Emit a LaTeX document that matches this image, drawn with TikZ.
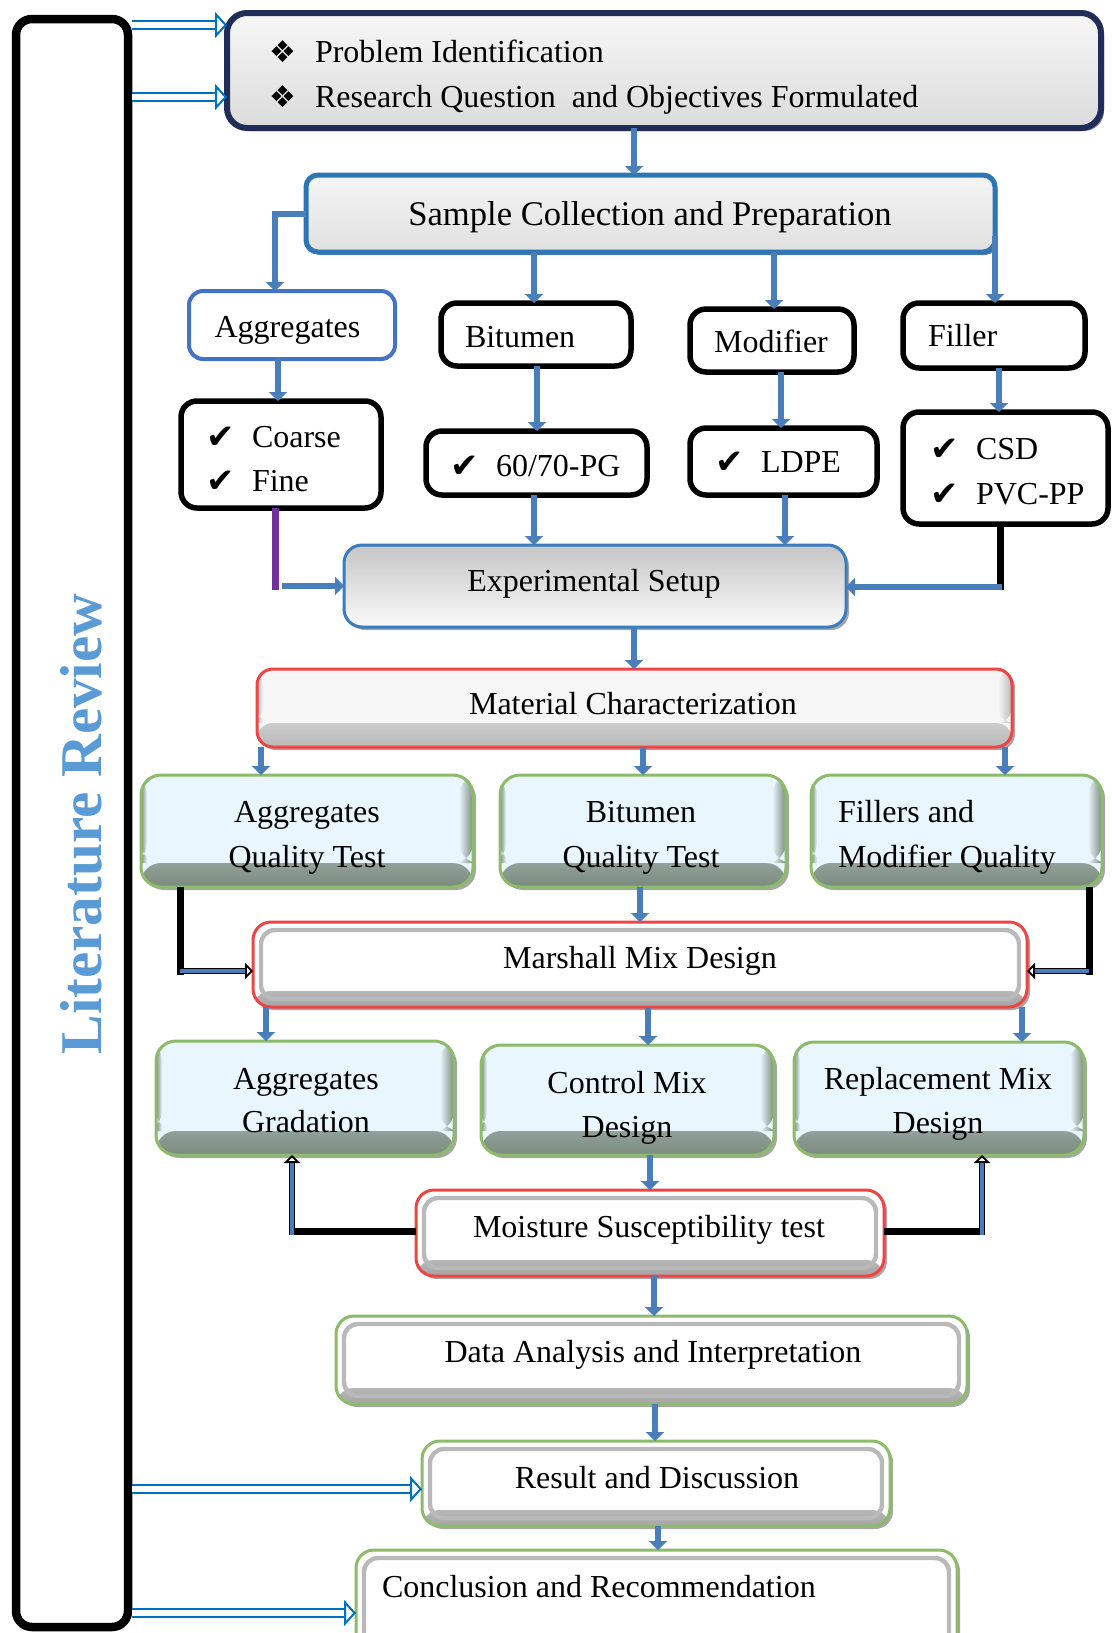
\documentclass[tikz,border=0pt]{standalone}
\usepackage{fontspec}
\setmainfont{Liberation Serif}
\newfontfamily\symfont{DejaVu Sans}
\usetikzlibrary{arrows.meta,fit,shadows,calc}
\definecolor{navyb}{HTML}{1F2D57}
\definecolor{sampleb}{HTML}{2E75B6}
\definecolor{aggb}{HTML}{4472C4}
\definecolor{connb}{HTML}{4A7EBB}
\definecolor{litb}{HTML}{5B9BD5}
\definecolor{hollowb}{HTML}{0070C0}
\definecolor{purp}{HTML}{7030A0}
\definecolor{redb}{HTML}{EE4444}
\definecolor{greenb}{HTML}{8CBB69}
\definecolor{qfill}{HTML}{EAF6FD}
\definecolor{qband}{HTML}{7A8A7E}
\definecolor{expb}{HTML}{3A7CC0}
\newcommand\chk{\makebox[23pt][l]{\raisebox{-0.5pt}{\symfont\fontsize{17}{17}\selectfont ✔}}}
\newcommand\dia{\makebox[23pt][l]{\symfont\fontsize{15}{15}\selectfont ❖}}
\tikzset{
  every node/.style={inner sep=0pt, outer sep=0pt},
  txt/.style={font=\fontsize{16}{19}\selectfont, text height=10.6pt, text depth=0pt},
  shad/.style={drop shadow={shadow xshift=1.5pt, shadow yshift=-1.5pt, opacity=0.35, fill=black}},
  topbox/.style={draw=navyb, line width=3pt, rounded corners=10pt, top color=gray!6, bottom color=gray!28,
     drop shadow={shadow xshift=1.5pt, shadow yshift=-1.5pt, opacity=0.6, fill=navyb}},
  samplebox/.style={draw=sampleb, line width=2.5pt, rounded corners=6pt, top color=gray!8, bottom color=gray!24,
     drop shadow={shadow xshift=1.2pt, shadow yshift=-1.5pt, opacity=0.6, fill=navyb}},
  aggbox/.style={draw=aggb, line width=2pt, rounded corners=7pt, fill=white},
  blkbox/.style={draw=black, line width=2.75pt, rounded corners=8pt, fill=white},
  bevel/.style 2 args={path picture={
     \shade[top color=#1, bottom color=#2] ([yshift=12pt]path picture bounding box.south west) rectangle (path picture bounding box.south east);
     \shade[left color=#1, right color=#2] ([xshift=-7pt]path picture bounding box.north east) rectangle ([yshift=12pt]path picture bounding box.south east);
     \shade[left color=#2, right color=#1] (path picture bounding box.north west) rectangle ([xshift=3pt,yshift=12pt]path picture bounding box.south west);
  }},
  expbox/.style={draw=expb, line width=1.5pt, rounded corners=9pt, top color=gray!45, bottom color=gray!4, shad},
  matbox/.style={draw=redb, line width=1.5pt, rounded corners=8pt, fill=gray!7, shad, bevel={gray!7}{gray!55}},
  qbox/.style={draw=greenb, line width=1.5pt, rounded corners=10pt, fill=qfill, shad, bevel={qfill}{qband}},
  rimbox/.style={draw=#1, line width=1.5pt, rounded corners=9pt, fill=white, shad, path picture={
     \shade[top color=white, bottom color=gray!70] ([yshift=8pt]path picture bounding box.south west) rectangle (path picture bounding box.south east);
     \draw[gray!55, line width=2.2pt, rounded corners=7pt] ([shift={(4pt,-4pt)}]path picture bounding box.north west) rectangle ([shift={(-4pt,4pt)}]path picture bounding box.south east);
  }},
  litbox/.style={draw=black, line width=4.25pt, rounded corners=8pt},
  conn/.style={draw=connb, line width=3pt, -{Triangle[length=4.5pt,width=9pt]}},
  purpline/.style={draw=purp, line width=3.5pt},
  blkln/.style={draw=black, line width=3.5pt},
  bbarr/.style={draw=black, line width=0.9pt, double=connb, double distance=1.6pt, -{Triangle[open,length=4pt,width=8pt,line width=0.9pt]}},
  litarr/.style={draw=hollowb, line width=1pt, double=white, double distance=3pt, -{Triangle[open,length=6pt,width=13pt,line width=1pt]}},
}
\begin{document}
\begin{tikzpicture}[x=0.5pt, y=-0.5pt]
\useasboundingbox (0,0) rectangle (1112,1633);
\clip (0,0) rectangle (1112,1633);

% Literature review frame
\node[litbox, fit={(16,19) (128,1627)}] (lit) {};
\node[rotate=90, font=\bfseries\fontsize{29.6}{30}\selectfont, text=litb, text height=19.6pt, text depth=0pt] (littext) at (82,824) {Literature Review};
\coordinate (le) at ([xshift=2.1pt]lit.east);

% boxes
\node[topbox, fit={(227,13) (1101,128)}] (top) {};
\node[samplebox, fit={(306,175) (995,252)}] (sample) {};
\node[aggbox, fit={(189,291) (395,359)}] (agg) {};
\node[blkbox, fit={(441,303) (631,366)}] (bit) {};
\node[blkbox, fit={(690,309) (854,372)}] (mod) {};
\node[blkbox, fit={(903,303) (1085,368)}] (fil) {};
\node[blkbox, fit={(181,401) (381,508)}] (cf) {};
\node[blkbox, fit={(426,431) (647,495)}] (pg) {};
\node[blkbox, fit={(690,428) (877,495)}] (ldpe) {};
\node[blkbox, fit={(903,412) (1108,524)}] (csd) {};
\node[expbox, fit={(344,545) (846,627)}] (exp) {};
\node[matbox, fit={(257,669) (1012,747)}] (mat) {};
\node[qbox, fit={(141,775) (473,887)}] (aqt) {};
\node[qbox, fit={(500,775) (786,887)}] (bqt) {};
\node[qbox, fit={(811,775) (1102,887)}] (fqt) {};
\node[rimbox=redb, fit={(253,922) (1027,1007)}] (marshall) {};
\node[qbox, fit={(156,1041) (454,1155)}] (agd) {};
\node[qbox, fit={(481,1045) (774,1155)}] (cmd) {};
\node[qbox, fit={(794,1042) (1084,1155)}] (rmd) {};
\node[rimbox=redb, fit={(416,1190) (884,1276)}] (moist) {};
\node[rimbox=greenb, fit={(336,1316) (967,1404)}] (data) {};
\node[rimbox=greenb, fit={(422,1441) (890,1526)}] (result) {};
\node[rimbox=greenb, fit={(356,1550) (957,1665)}] (concl) {};

% texts
\node[txt, anchor=west] (t1) at (269,52) {\dia Problem Identification};
\node[txt, anchor=west] (t2) at (269,97) {\dia Research Question\ \ and Objectives Formulated};
\node[txt, font=\fontsize{17.3}{20}\selectfont, text height=11.4pt] (tsample) at (650,214) {Sample Collection and Preparation};
\node[txt] (tagg) at (287.5,327) {Aggregates};
\node[txt, anchor=west] (tbit) at (465,337) {Bitumen};
\node[txt] (tmod) at (771,342) {Modifier};
\node[txt, anchor=west] (tfil) at (928,336) {Filler};
\node[txt, anchor=west] (tco) at (206,437) {\chk Coarse};
\node[txt, anchor=west] (tfi) at (206,481) {\chk Fine};
\node[txt, anchor=west] (tpg) at (450,466) {\chk 60/70-PG};
\node[txt, anchor=west] (tld) at (715,462) {\chk LDPE};
\node[txt, anchor=west] (tcs) at (930,449) {\chk CSD};
\node[txt, anchor=west] (tpv) at (930,494) {\chk PVC-PP};
\node[txt] (texp) at (594,581) {Experimental Setup};
\node[txt] (tmat) at (633,704) {Material Characterization};
\node[txt] (taq1) at (307,812) {Aggregates};
\node[txt] (taq2) at (307,857) {Quality Test};
\node[txt] (tbq1) at (641,812) {Bitumen};
\node[txt] (tbq2) at (641,857) {Quality Test};
\node[txt, anchor=west] (tfq1) at (838,812) {Fillers and};
\node[txt, anchor=west] (tfq2) at (838,857) {Modifier Quality};
\node[txt] (tmar) at (640,958) {Marshall Mix Design};
\node[txt] (tag1) at (306,1079) {Aggregates};
\node[txt] (tag2) at (306,1122) {Gradation};
\node[txt] (tcm1) at (627,1083) {Control Mix};
\node[txt] (tcm2) at (627,1127) {Design};
\node[txt] (trm1) at (938,1079) {Replacement Mix};
\node[txt] (trm2) at (938,1123) {Design};
\node[txt] (tmoi) at (649,1227) {Moisture Susceptibility test};
\node[txt] (tdat) at (653,1352) {Data Analysis and Interpretation};
\node[txt] (tres) at (657,1478) {Result and Discussion};
\node[txt, anchor=west] (tcon) at (382,1587) {Conclusion and Recommendation};

% literature arrows
\draw[litarr] (le |- 0,25) -- (top.west |- 0,25);
\draw[litarr] (le |- 0,97) -- (top.west |- 0,97);
\draw[litarr] (le |- 0,1489) -- (result.west |- 0,1489);
\draw[litarr] (le |- 0,1613) -- (concl.west |- 0,1613);

% connectors
\draw[conn] (top.south -| 634,0) -- (sample.north -| 634,0);
\draw[conn] (sample.west) -| (agg.north -| 275,0);
\draw[conn] (sample.south -| 534,0) -- (bit.north -| 534,0);
\draw[conn] (sample.south -| 774,0) -- (mod.north -| 774,0);
\draw[conn] (sample.east |- 0,236) -- (fil.north -| sample.east);
\draw[conn] (agg.south -| 278,0) -- (cf.north -| 278,0);
\draw[conn] (bit.south -| 537,0) -- (pg.north -| 537,0);
\draw[conn] (mod.south -| 781,0) -- (ldpe.north -| 781,0);
\draw[conn] (fil.south -| 999,0) -- (csd.north -| 999,0);

\coordinate (p1) at (275,590);
\draw[purpline] (cf.south -| p1) -- (p1);
\coordinate (p2) at (282,586);
\draw[conn] (p2) -- (exp.west |- p2);
\draw[conn] (pg.south -| 534,0) -- (exp.north -| 534,0);
\draw[conn] (ldpe.south -| 785,0) -- (exp.north -| 785,0);
\coordinate (q1) at (1000,590);
\draw[blkln] (csd.south -| q1) -- (q1);
\coordinate (q2) at (1002,587);
\draw[conn] (q2) -- (exp.east |- q2);

\draw[conn] (exp.south -| 634,0) -- (mat.north -| 634,0);
\draw[conn] (mat.south -| 261,0) -- (aqt.north -| 261,0);
\draw[conn] (mat.south -| 643,0) -- (bqt.north -| 643,0);
\draw[conn] (mat.south -| 1005,0) -- (fqt.north -| 1005,0);

\coordinate (k1) at (180,971);
\draw[blkln] (aqt.south -| k1) -- ([yshift=-2pt]k1);
\draw[bbarr] (k1) -- (marshall.west |- k1);
\coordinate (k2) at (1089,971);
\draw[blkln] (fqt.south -| k2) -- ([yshift=-2pt]k2);
\draw[bbarr] (k2) -- (marshall.east |- k2);
\draw[conn] (bqt.south -| 640,0) -- (marshall.north -| 640,0);

\draw[conn] (marshall.south -| 266,0) -- (agd.north -| 266,0);
\draw[conn] (marshall.south -| 648,0) -- (cmd.north -| 648,0);
\draw[conn] (marshall.south -| 1022,0) -- (rmd.north -| 1022,0);
\draw[conn] (cmd.south -| 650,0) -- (moist.north -| 650,0);

\coordinate (m1) at (292,1235);
\draw[blkln] (moist.west |- 0,1231) -- (m1 |- 0,1231);
\draw[bbarr] (m1) -- (agd.south -| m1);
\coordinate (m2) at (982,1235);
\draw[blkln] (moist.east |- 0,1231) -- (m2 |- 0,1231);
\draw[bbarr] (m2) -- (rmd.south -| m2);

\draw[conn] (moist.south -| 654,0) -- (data.north -| 654,0);
\draw[conn] (data.south -| 655,0) -- (result.north -| 655,0);
\draw[conn] (result.south -| 658,0) -- (concl.north -| 658,0);
\end{tikzpicture}
\end{document}
